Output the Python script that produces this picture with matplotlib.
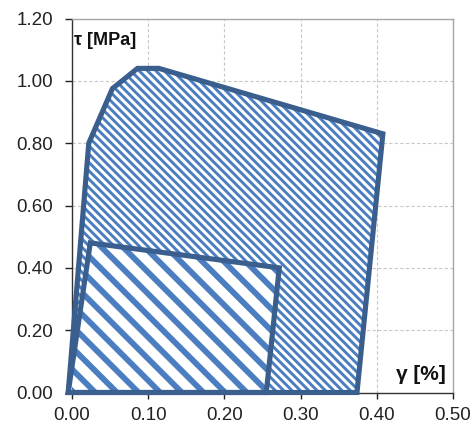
import numpy as np
import matplotlib
matplotlib.use("Agg")
import matplotlib.pyplot as plt
from matplotlib.patches import Polygon
from matplotlib.collections import LineCollection

# Envelope of the shear stress / shear strain domain
outer_gamma = [-0.005, 0.022, 0.053, 0.086, 0.114, 0.408, 0.374]
outer_tau = [0.00, 0.80, 0.975, 1.04, 1.04, 0.83, 0.00]

# Inner (elastic) domain
inner_gamma = [-0.005, 0.024, 0.272, 0.255]
inner_tau = [0.00, 0.48, 0.40, 0.00]

x_ticks = [0.00, 0.10, 0.20, 0.30, 0.40, 0.50]
y_ticks = [0.00, 0.20, 0.40, 0.60, 0.80, 1.00, 1.20]

plt.rcParams['font.family'] = ['Liberation Sans', 'DejaVu Sans']

W, H, DPI = 477, 426, 100
fig = plt.figure(figsize=(W / DPI, H / DPI), dpi=DPI)
ax = fig.add_axes([72 / W, (H - 392.5) / H, 381 / W, 374 / H])
ax.set_xlim(0, 0.5)
ax.set_ylim(0, 1.2)

edge_col = '#3a5f8e'
hatch_col = '#4a7ec0'


def hatch_fill(patch, spacing, lw, zorder):
    """Draw 45-degree stripes (down-right) clipped to a patch, spacing in px."""
    bb = ax.bbox
    step = spacing * np.sqrt(2)
    cs = np.arange(bb.x0 + bb.y0 - 20, bb.x1 + bb.y1 + 20, step)
    xa, xb = bb.x0 - 40, bb.x1 + 40
    inv = ax.transData.inverted()
    segs = []
    for c in cs:
        p = inv.transform([[xa, c - xa], [xb, c - xb]])
        segs.append(p)
    lc = LineCollection(segs, colors=hatch_col, linewidths=lw,
                        capstyle='butt', zorder=zorder)
    ax.add_collection(lc)
    lc.set_clip_path(patch)


outer = Polygon(np.column_stack([outer_gamma, outer_tau]), closed=True,
                facecolor='white', edgecolor='none', zorder=2, clip_on=False)
ax.add_patch(outer)
hatch_fill(outer, 5.9, 2.1, 2.5)

inner = Polygon(np.column_stack([inner_gamma, inner_tau]), closed=True,
                facecolor='white', edgecolor='none', zorder=3, clip_on=False)
ax.add_patch(inner)
hatch_fill(inner, 15.3, 4.2, 3.5)

ax.add_patch(Polygon(np.column_stack([outer_gamma, outer_tau]), closed=True,
                     facecolor='none', edgecolor=edge_col, linewidth=3.7,
                     joinstyle='miter', zorder=5, clip_on=False))
ax.add_patch(Polygon(np.column_stack([inner_gamma, inner_tau]), closed=True,
                     facecolor='none', edgecolor=edge_col, linewidth=3.7,
                     joinstyle='miter', zorder=6, clip_on=False))

ax.set_xticks(x_ticks)
ax.set_yticks(y_ticks)
ax.set_xticklabels([f"{v:.2f}" for v in x_ticks])
ax.set_yticklabels([f"{v:.2f}" for v in y_ticks])
ax.tick_params(axis='both', labelsize=13.5, colors='#222222',
               direction='out', width=1)
ax.tick_params(axis='y', length=5, pad=8.5)
ax.tick_params(axis='x', length=4, pad=6.5)

ax.grid(True, color='#c8c8c8', linestyle=(0, (3, 2)), linewidth=0.8, zorder=0)
ax.set_axisbelow(True)

for s in ('left', 'bottom'):
    ax.spines[s].set_color('#333333')
    ax.spines[s].set_linewidth(1.0)
for s in ('top', 'right'):
    ax.spines[s].set_color('#a6a6a6')
    ax.spines[s].set_linewidth(1.0)

ax.text(0.002, 1.131, "τ [MPa]", fontsize=13, fontweight='bold',
        ha='left', va='center', color='#111111', zorder=7)
ax.text(0.490, 0.059, "γ [%]", fontsize=15, fontweight='bold',
        ha='right', va='center', color='#111111', zorder=7)

fig.savefig("out.png", dpi=DPI)
